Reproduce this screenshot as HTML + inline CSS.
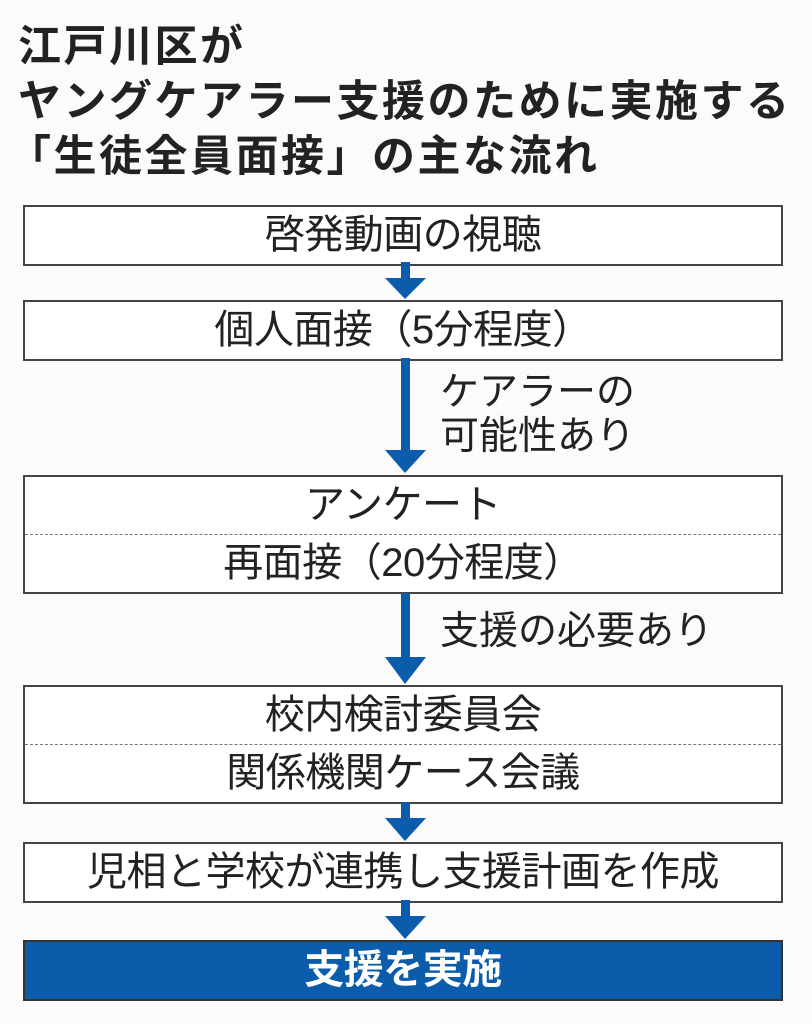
<!DOCTYPE html>
<html><head><meta charset="utf-8"><style>
body{margin:0;width:812px;height:1024px;background:#fbfbfb;position:relative;overflow:hidden;font-family:"Liberation Sans","Noto Sans CJK JP",sans-serif;color:#222}
.t{position:absolute;left:18px;font-size:43px;font-weight:bold;line-height:1;white-space:nowrap;letter-spacing:2.5px}
.b{position:absolute;left:23px;width:760px;border:2px solid #444;background:#fff;box-sizing:border-box}
.r{height:57px;line-height:57px;text-align:center;font-size:40px;white-space:nowrap;letter-spacing:-0.5px}
.d{border-top:1.5px dashed #777}
.lab{position:absolute;left:440px;font-size:39px;line-height:44px;white-space:nowrap}
svg{position:absolute;left:0;top:0}
</style></head><body>
<div class="t" style="top:26px">江戸川区が</div>
<div class="t" style="top:81px">ヤングケアラー支援のために実施する</div>
<div class="t" style="top:136px;left:8px">「生徒全員面接」の主な流れ</div>

<div class="b" style="top:205px"><div class="r">啓発動画の視聴</div></div>
<div class="b" style="top:300px"><div class="r">個人面接（5分程度）</div></div>
<div class="b" style="top:475px"><div class="r">アンケート</div><div class="r d">再面接（20分程度）</div></div>
<div class="b" style="top:685px"><div class="r">校内検討委員会</div><div class="r d">関係機関ケース会議</div></div>
<div class="b" style="top:842px"><div class="r">児相と学校が連携し支援計画を作成</div></div>
<div class="b" style="top:940px;background:#0b5cab;border-color:#333"><div class="r" style="color:#fff;font-weight:bold">支援を実施</div></div>

<div class="lab" style="top:371px">ケアラーの<br>可能性あり</div>
<div class="lab" style="top:610px">支援の必要あり</div>

<svg width="812" height="1024" fill="#0b5cab">
<rect x="401" y="262" width="9" height="18"/><polygon points="385,278 426,278 405,299"/>
<rect x="401" y="358" width="9" height="95"/><polygon points="385,450 426,450 405,473"/>
<rect x="401" y="593" width="9" height="66"/><polygon points="385,657 426,657 405,684"/>
<rect x="401" y="802" width="9" height="18"/><polygon points="385,818 426,818 405,841"/>
<rect x="401" y="900" width="9" height="18"/><polygon points="385,916 426,916 405,939"/>
</svg>
</body></html>
